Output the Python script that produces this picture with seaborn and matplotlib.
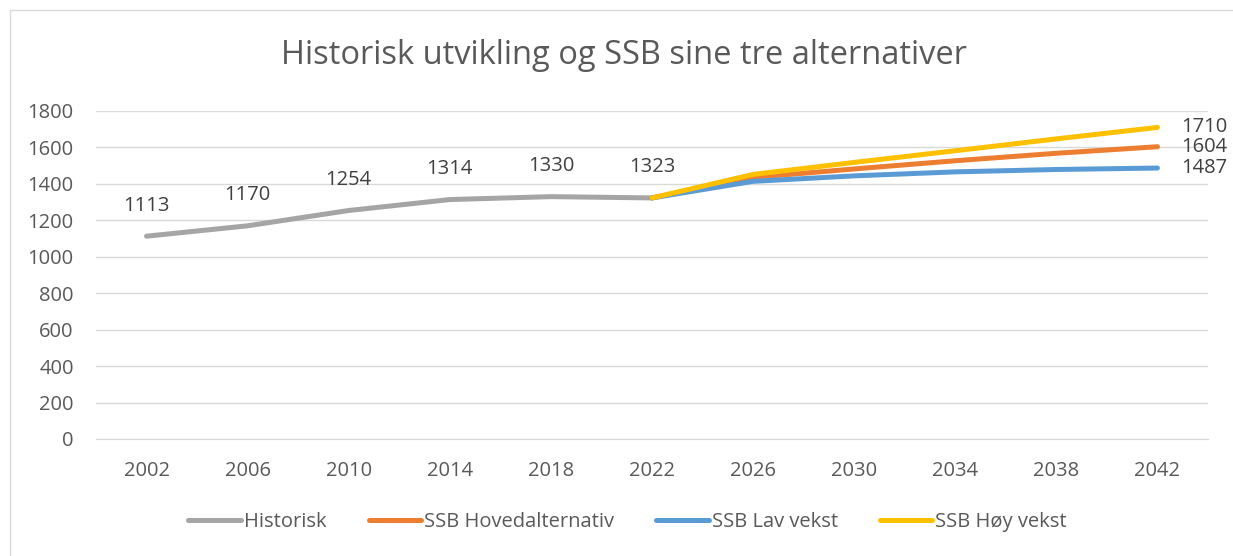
import numpy as np
import pandas as pd
import matplotlib
matplotlib.use("Agg")
import matplotlib.pyplot as plt
import seaborn as sns
from matplotlib.patches import Rectangle

#%% data
years_hist = [2002, 2006, 2010, 2014, 2018, 2022]
historisk = [1113, 1170, 1254, 1314, 1330, 1323]
years_proj = [2022, 2026, 2030, 2034, 2038, 2042]
hoved = [1323, 1435, 1482, 1527, 1568, 1604]
lav = [1323, 1414, 1444, 1466, 1479, 1487]
hoy = [1323, 1452, 1518, 1582, 1647, 1710]
all_years = [2002, 2006, 2010, 2014, 2018, 2022, 2026, 2030, 2034, 2038, 2042]

series_names = ["Historisk", "SSB Hovedalternativ", "SSB Lav vekst", "SSB Høy vekst"]
colors = ["#A5A5A5", "#ED7D31", "#5B9BD5", "#FFC000"]

df = pd.concat([
    pd.DataFrame({"year": years_hist, "value": historisk, "serie": series_names[0]}),
    pd.DataFrame({"year": years_proj, "value": hoved, "serie": series_names[1]}),
    pd.DataFrame({"year": years_proj, "value": lav, "serie": series_names[2]}),
    pd.DataFrame({"year": years_proj, "value": hoy, "serie": series_names[3]}),
])

#%% plot
sns.set_style("white")
plt.rcParams['font.family'] = ['Open Sans', 'DejaVu Sans']
txt = "#595959"
grid = "#D9D9D9"
fs = 14.5

fig = plt.figure(figsize=(12.33, 5.56), dpi=100)
ax = fig.add_axes([96/1233, 1-439/556, (1208-96)/1233, (439-111)/556])

sns.lineplot(data=df, x="year", y="value", hue="serie", hue_order=series_names,
             palette=dict(zip(series_names, colors)), linewidth=3.6,
             solid_capstyle="round", ax=ax, legend=True)

ax.set_xlim(2000, 2044)
ax.set_ylim(0, 1800)
ax.set_xticks(all_years)
ax.set_yticks(np.arange(0, 1801, 200))
ax.yaxis.grid(True, color=grid, linewidth=1)
ax.set_axisbelow(True)
for s in ["top", "right", "left"]:
    ax.spines[s].set_visible(False)
ax.spines["bottom"].set_color(grid)
ax.tick_params(axis="both", length=0, labelsize=fs, colors=txt)
ax.tick_params(axis="y", pad=16)
ax.tick_params(axis="x", pad=16)
ax.set_xlabel("")
ax.set_ylabel("")

# data labels
for x, v in zip(years_hist, historisk):
    ax.annotate(str(v), (x, v), xytext=(0, 22), textcoords="offset points",
                ha="center", va="center", fontsize=fs, color="#404040")
for vals in [hoved, lav, hoy]:
    ax.annotate(str(vals[-1]), (years_proj[-1], vals[-1]), xytext=(17, 0),
                textcoords="offset points", ha="left", va="center",
                fontsize=fs, color="#404040")

fig.text(0.506, 1-55/556, "Historisk utvikling og SSB sine tre alternativer",
         ha="center", va="center", fontsize=23.5, color=txt)

ax.legend(loc="center", bbox_to_anchor=(0.509, 1-522/556), bbox_transform=fig.transFigure,
          ncol=4, frameon=False, fontsize=fs, handlelength=2.6, handletextpad=0.15,
          columnspacing=2.1, labelcolor=txt)

fig.patches.append(Rectangle((10/1233, -0.1), 1.2, 1-10/556+0.1, transform=fig.transFigure,
                             fill=False, edgecolor="#D9D9D9", linewidth=1))

fig.savefig("out.png", dpi=100)
